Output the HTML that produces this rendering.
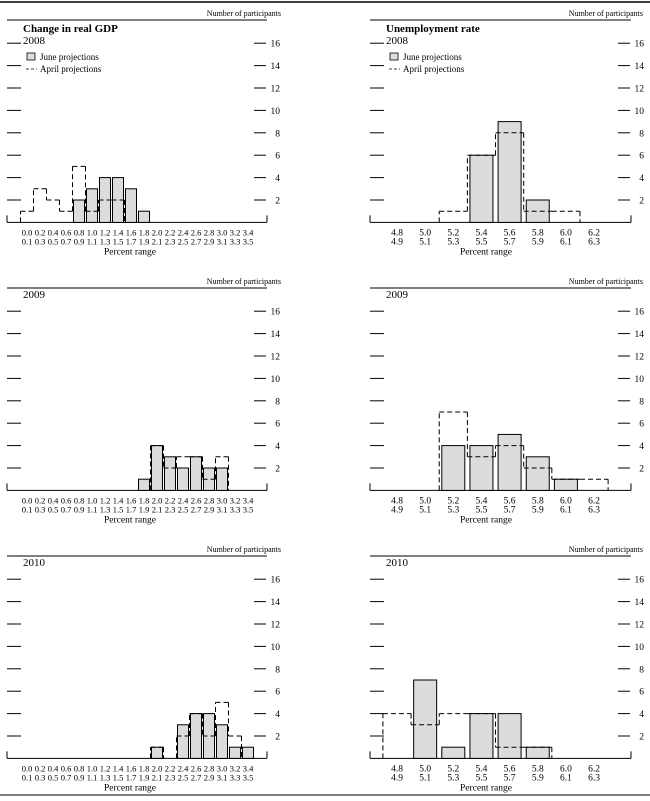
<!DOCTYPE html>
<html><head><meta charset="utf-8"><style>
body{margin:0;background:#fff}
svg{display:block;font-family:"Liberation Serif",serif}
</style></head><body>
<svg id="c" width="650" height="801" viewBox="0 0 650 801" xmlns="http://www.w3.org/2000/svg">
<line x1="0" y1="2" x2="650" y2="2" stroke="#000" stroke-width="1.5"/>
<line x1="0" y1="795" x2="650" y2="795" stroke="#555" stroke-width="1.5"/>
</svg>
<script>
// GDP bins (lower/upper labels)
const gdpLow = ["0.0","0.2","0.4","0.6","0.8","1.0","1.2","1.4","1.6","1.8","2.0","2.2","2.4","2.6","2.8","3.0","3.2","3.4"];
const gdpHigh = ["0.1","0.3","0.5","0.7","0.9","1.1","1.3","1.5","1.7","1.9","2.1","2.3","2.5","2.7","2.9","3.1","3.3","3.5"];
const unLow = ["4.8","5.0","5.2","5.4","5.6","5.8","6.0","6.2"];
const unHigh = ["4.9","5.1","5.3","5.5","5.7","5.9","6.1","6.3"];
const yTicks = [2,4,6,8,10,12,14,16];
// GDP June / April
const gdpJune2008 = [0,0,0,0,2,3,4,4,3,1,0,0,0,0,0,0,0,0];
const gdpApril2008 = [1,3,2,1,5,1,2,2,0,0,0,0,0,0,0,0,0,0];
const gdpJune2009 = [0,0,0,0,0,0,0,0,0,1,4,3,2,3,2,2,0,0];
const gdpApril2009 = [0,0,0,0,0,0,0,0,0,0,4,2,3,3,1,3,0,0];
const gdpJune2010 = [0,0,0,0,0,0,0,0,0,0,1,0,3,4,4,3,1,1];
const gdpApril2010 = [0,0,0,0,0,0,0,0,0,0,1,0,2,4,2,5,2,0];
// Unemployment June / April
const unJune2008 = [0,0,0,6,9,2,0,0];
const unApril2008 = [0,0,1,6,8,1,1,0];
const unJune2009 = [0,0,4,4,5,3,1,0];
const unApril2009 = [0,0,7,3,4,2,1,1];
const unJune2010 = [0,7,1,4,4,1,0,0];
const unApril2010 = [4,3,4,4,1,1,0,0];

const svg = document.getElementById('c');
const NS = 'http://www.w3.org/2000/svg';
function mk(tag, attrs, parent){
  const e = document.createElementNS(NS, tag);
  for (const k in attrs) e.setAttribute(k, attrs[k]);
  (parent||svg).appendChild(e);
  return e;
}
function txt(str, x, y, size, anchor, parent, weight){
  const t = mk('text', {x:x, y:y, 'font-size':size, 'text-anchor':anchor||'start', fill:'#000'}, parent);
  if (weight) t.setAttribute('font-weight', weight);
  t.textContent = str;
  return t;
}

function panel(cfg){
  const g = mk('g', {});
  
  
  const top = cfg.top, L = cfg.x0, R = cfg.x1;
  const base = top + 222.4, unit = 11.2;
  const yS = v => base - v * unit;
  const xS = i => cfg.c0 + cfg.step * i;

  const np = txt('Number of participants', cfg.npX, top + 16, 8, 'end', g);
  
  
  mk('line', {x1:L, y1:top+20, x2:R, y2:top+20, stroke:'#000', 'stroke-width':1}, g);

  if (cfg.title){
    const tt = txt(cfg.title, L+16, top+32, 11, 'start', g, 'bold');
    
    
  }
  const yr = txt(cfg.year, L+16, top + (cfg.title ? 44 : 30), 11, 'start', g);
  
  

  if (cfg.legend){
    const lg = mk('g', {}, g);
    
    
    mk('rect', {x:L+20, y:top+53, width:8, height:7, fill:'#ddd', stroke:'#000', 'stroke-width':0.8}, lg);
    txt('June projections', L+33, top+60, 9, 'start', lg);
    mk('line', {x1:L+19, y1:top+69, x2:L+30, y2:top+69, stroke:'#000', 'stroke-width':0.8, 'stroke-dasharray':'3,2'}, lg);
    txt('April projections', L+33, top+72, 9, 'start', lg);
  }

  // y ticks
  yTicks.forEach(v => {
    const y = yS(v);
    mk('line', {x1:L, y1:y, x2:L+14, y2:y, stroke:'#000', 'stroke-width':1}, g);
    mk('line', {x1:R-13, y1:y, x2:R-1, y2:y, stroke:'#000', 'stroke-width':1}, g);
    const t = txt(String(v), R+13, y+3.5, 9.5, 'end', g);
    
    
  });
  // baseline
  mk('line', {x1:L, y1:base, x2:R, y2:base, stroke:'#000', 'stroke-width':1}, g);
  mk('line', {x1:L, y1:base, x2:L, y2:base-7, stroke:'#000', 'stroke-width':1}, g);
  mk('line', {x1:R, y1:base, x2:R, y2:base-7, stroke:'#000', 'stroke-width':1}, g);

  // bars
  cfg.june.forEach((v, i) => {
    if (!v) return;
    const r = mk('rect', {x:xS(i)-cfg.bw/2, y:yS(v), width:cfg.bw, height:base-yS(v), fill:'#dcdcdc', stroke:'#000', 'stroke-width':1}, g);
    
    
  });
  // april step outline
  let d = '';
  const n = cfg.april.length;
  let prev = 0;
  for (let i = 0; i <= n; i++){
    const v = i < n ? cfg.april[i] : 0;
    const xe = xS(i) - cfg.step/2;
    if (v !== prev){
      d += 'M' + xe + ' ' + yS(prev) + 'L' + xe + ' ' + yS(v);
    }
    if (i < n && v > 0){
      d += 'M' + xe + ' ' + yS(v) + 'L' + (xe + cfg.step) + ' ' + yS(v);
    }
    prev = v;
  }
  const p = mk('path', {d:d, fill:'none', stroke:'#000', 'stroke-width':1, 'stroke-dasharray':'5,3'}, g);
  
  

  // x labels
  cfg.low.forEach((s, i) => {
    const a = txt(s, xS(i), base+13, cfg.fs, 'middle', g);
    
    
    const b = txt(cfg.high[i], xS(i), base+22, cfg.fs, 'middle', g);
    
    
  });
  const xt = txt('Percent range', cfg.xtX, base+32, 9.5, 'middle', g);
  
  
}

const tops = [0, 268, 536];
const years = ['2008', '2009', '2010'];
const gJ = [gdpJune2008, gdpJune2009, gdpJune2010];
const gA = [gdpApril2008, gdpApril2009, gdpApril2010];
const uJ = [unJune2008, unJune2009, unJune2010];
const uA = [unApril2008, unApril2009, unApril2010];
for (let k = 0; k < 3; k++){
  panel({name:'gdp-panel-' + years[k], top:tops[k], x0:7, x1:267, npX:281, c0:27, step:13, bw:11,
    title: k===0 ? 'Change in real GDP' : null, legend: k===0, year: years[k],
    june:gJ[k], april:gA[k], low:gdpLow, high:gdpHigh, fs:8.5, xtX:130});
  panel({name:'unemployment-panel-' + years[k], top:tops[k], x0:370, x1:631, npX:643, c0:397, step:28.15, bw:23,
    title: k===0 ? 'Unemployment rate' : null, legend: k===0, year: years[k],
    june:uJ[k], april:uA[k], low:unLow, high:unHigh, fs:9.5, xtX:486});
}
</script>
</body></html>
